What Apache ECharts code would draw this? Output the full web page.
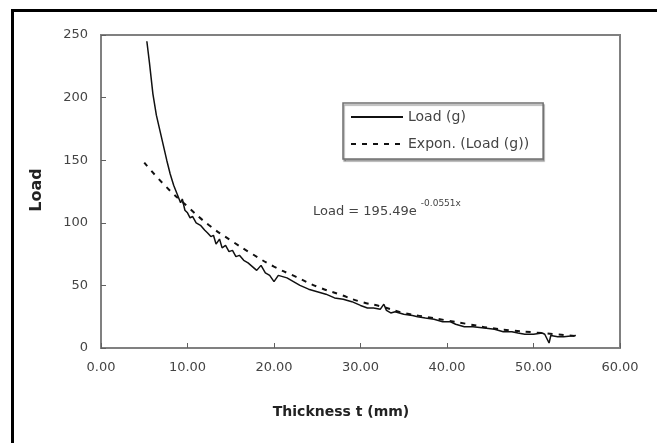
<!DOCTYPE html>
<html>
<head>
<meta charset="utf-8">
<script src="https://cdn.jsdelivr.net/npm/echarts@6/dist/echarts.min.js"></script>
<style>html,body{margin:0;padding:0;background:#fff;}#c{width:657px;height:443px;}</style>
</head>
<body>
<div id="c"></div>
<script>
// Measured series "Load (g)"
const loadT = [5.3,5.6,6.0,6.4,6.8,7.2,7.6,8.0,8.4,8.8,9.2,9.4,9.7,10.0,10.3,10.6,11.0,11.5,12.0,12.3,12.7,13.0,13.3,13.7,14.0,14.4,14.8,15.2,15.6,16.0,16.5,17.0,17.5,18.0,18.5,19.0,19.5,20.0,20.5,21.0,21.5,22.0,22.5,23.0,24.0,25.0,26.0,27.0,28.0,29.0,30.0,30.8,31.5,32.3,32.7,33.0,33.5,34.0,35.0,36.0,36.6,37.5,38.5,39.5,40.4,41.0,42.0,43.0,44.3,45.5,46.5,47.5,48.2,49.0,50.0,51.0,51.3,51.8,52.0,52.8,53.5,54.3,54.9];
const loadG = [245,228,203,186,174,162,150,139,130,123,116,119,110,108,104,105,100,98,94,92,89,90,83,87,80,82,77,78,73,74,70,68,65,62,66,60,58,53,58,57,56,54,52,50,47,45,43,40,39,37,34,32,32,31,35,30,28,29,27,26,25,24,23,21,21,19,17,17,16,15,13,13,12,11,11,12,11,4,10,9,9,9.5,10];
// Exponential trend line "Expon. (Load (g))"
const trendT = [5,7.5,10,12.5,15,17.5,20,22.5,25,27.5,30,32.5,35,37.5,40,42.5,45,47.5,50,52.5,55];
const trendG = [148,129,113,98,86,75,65,57,49,43,37,33,28,25,22,19,16,14,12.5,11,9.5];
// Axis ticks
const xTicks = [0,10,20,30,40,50,60];
const yTicks = [0,50,100,150,200,250];
const seriesNames = ['Load (g)','Expon. (Load (g))'];

const FONT = '"DejaVu Sans", "Liberation Sans", sans-serif';
const chart = echarts.init(document.getElementById('c'), null, {renderer:'canvas'});
const pairs = (xs, ys) => xs.map((x,i)=>[x, ys[i]]);

chart.setOption({
  animation:false,
  backgroundColor:'#ffffff',
  color:['#111','#111'],
  grid:{left:101, top:35, width:519, height:313, show:true, borderColor:'#808080', borderWidth:2, backgroundColor:'transparent'},
  xAxis:{
    type:'value', min:xTicks[0], max:xTicks[xTicks.length-1], interval:10,
    axisLine:{show:true, lineStyle:{color:'#808080', width:2}},
    axisTick:{show:true, inside:true, length:5, lineStyle:{color:'#606060', width:1}},
    splitLine:{show:false},
    axisLabel:{margin:13, color:'#444', fontFamily:FONT, fontSize:13, formatter:v=>v.toFixed(2)}
  },
  yAxis:{
    type:'value', min:yTicks[0], max:yTicks[yTicks.length-1], interval:50,
    axisLine:{show:true, lineStyle:{color:'#808080', width:2}},
    axisTick:{show:true, inside:true, length:5, lineStyle:{color:'#606060', width:1}},
    splitLine:{show:false},
    axisLabel:{margin:13, color:'#444', fontFamily:FONT, fontSize:13}
  },
  legend:{
    left:343, top:103, orient:'vertical',
    data:seriesNames,
    itemWidth:52, itemHeight:14, itemGap:13,
    padding:[7,14,8,7],
    borderColor:'#707070', borderWidth:1.5,
    backgroundColor:'#fff',
    shadowColor:'rgba(0,0,0,0.35)', shadowOffsetY:2, shadowOffsetX:1, shadowBlur:1,
    itemStyle:{opacity:0},
    textStyle:{fontFamily:FONT, fontSize:14, color:'#444'}
  },
  series:[
    {name:seriesNames[0], type:'line', data:pairs(loadT, loadG), showSymbol:false, symbol:'none',
     itemStyle:{color:'#111'}, lineStyle:{color:'#111', width:1.5}, z:3},
    {name:seriesNames[1], type:'line', data:pairs(trendT, trendG), showSymbol:false, symbol:'none', smooth:true,
     itemStyle:{color:'#111'}, lineStyle:{color:'#111', width:2, type:[5,6]}, z:2}
  ],
  graphic:[
    {type:'rect', shape:{x:12.5, y:10.5, width:700, height:500}, style:{fill:'none', stroke:'#000', lineWidth:3}, silent:true, z:100},
    {type:'text', left:313, top:199, style:{
      text:'{a|Load = 195.49e}{b|-0.0551x}',
      rich:{a:{fontFamily:FONT, fontSize:13, fill:'#444', verticalAlign:'bottom'},
            b:{fontFamily:FONT, fontSize:9, fill:'#444', verticalAlign:'top', padding:[0,0,10,4]}}
    }},
    {type:'text', x:341, y:412, style:{text:'Thickness t (mm)', fontFamily:FONT, fontSize:14, fontWeight:'bold', fill:'#222', align:'center', verticalAlign:'middle'}},
    {type:'text', x:37, y:190, rotation:Math.PI/2, style:{text:'Load', fontFamily:FONT, fontSize:16, fontWeight:'bold', fill:'#222', align:'center', verticalAlign:'middle'}}
  ]
});
</script>
</body>
</html>
